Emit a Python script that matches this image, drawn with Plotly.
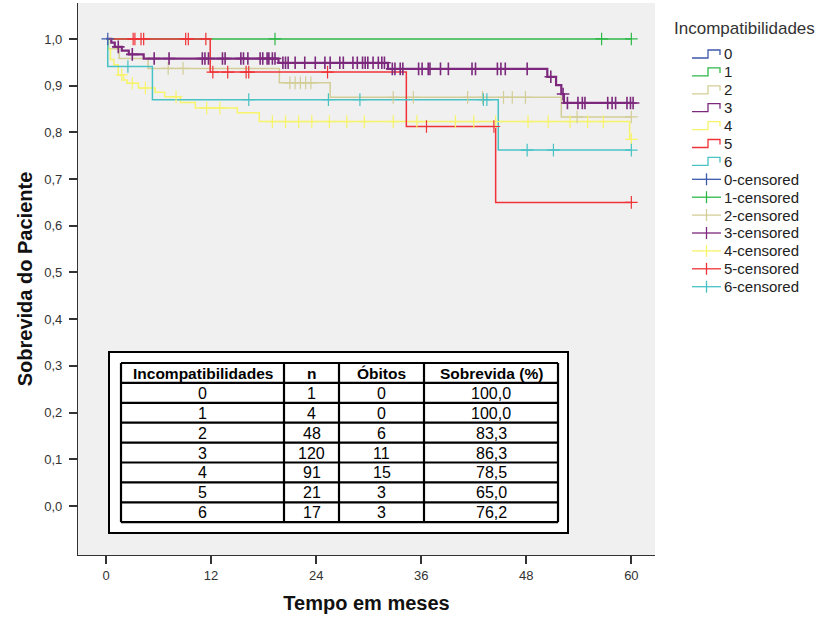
import numpy as np
import plotly.graph_objects as go

# ---------------- data ----------------
groups = ["0", "1", "2", "3", "4", "5", "6"]
colors = ["#3E58AC", "#2EB848", "#D3CE97", "#7C287D", "#F7F36A", "#EF3338", "#48C2C5"]

step_times = {
    "0": [0.0],
    "1": [0.0],
    "2": [0.0, 0.3, 1.5, 4.8, 19.8, 25.6, 52.0],
    "3": [0.0, 0.6, 1.0, 1.8, 2.6, 4.3, 19.7, 32.2, 50.4, 51.4, 52.0, 52.3],
    "4": [0.0, 0.2, 0.5, 0.9, 1.4, 2.0, 2.4, 3.7, 5.6, 6.7, 8.5, 10.2, 15.0, 17.5, 59.8],
    "5": [0.0, 11.9, 34.3, 44.5],
    "6": [0.0, 0.2, 5.3, 44.8],
}
step_surv = {
    "0": [1.0],
    "1": [1.0],
    "2": [1.0, 0.979, 0.958, 0.937, 0.906, 0.875, 0.833],
    "3": [1.0, 0.992, 0.983, 0.975, 0.967, 0.958, 0.949, 0.936, 0.919, 0.901, 0.882, 0.863],
    "4": [1.0, 0.978, 0.956, 0.945, 0.923, 0.912, 0.905, 0.895, 0.886, 0.876, 0.864, 0.852, 0.842, 0.823, 0.785],
    "5": [1.0, 0.929, 0.8125, 0.65],
    "6": [1.0, 0.941, 0.870, 0.762],
}
censor_times = {
    "0": [0.2],
    "1": [19.3, 56.6, 60.0],
    "2": [7.1, 8.8, 21.0, 21.6, 22.2, 22.8, 23.4, 32.8, 35.1, 41.3, 43.0, 45.4, 46.4, 47.9, 53.8, 60.0],
    "3": [1.4, 3.0, 5.5, 7.2, 11.0, 11.3, 11.7, 13.3, 13.6, 15.4, 15.7, 16.2, 17.6, 17.9, 18.4, 18.6,
          19.0, 19.3, 20.2, 20.5, 20.8, 21.6, 22.7, 23.9, 25.0, 25.6, 26.7, 27.1, 28.2, 28.7, 29.3,
          29.6, 29.9, 30.5, 31.1, 31.5, 31.8, 32.7, 33.0, 33.6, 33.9, 35.7, 36.1, 36.8, 37.0, 38.2,
          39.1, 41.8, 42.2, 44.7, 45.1, 45.6, 48.1, 50.8, 52.2, 52.7, 53.9, 54.4, 54.7, 57.3, 57.8,
          58.2, 59.5, 59.9, 60.2],
    "4": [1.8, 3.0, 4.5, 8.0, 11.5, 13.0, 19.0, 20.5, 22.0, 23.5, 25.5, 27.5, 29.5, 32.8, 35.5,
          39.9, 42.0, 44.5, 48.2, 50.5, 53.0, 55.0, 56.8, 60.0],
    "5": [3.1, 3.3, 4.0, 4.3, 9.1, 9.4, 11.4, 12.2, 13.9, 16.0, 16.3, 25.3, 36.6, 44.3, 60.0],
    "6": [2.5, 16.3, 25.4, 29.0, 43.1, 43.5, 48.1, 51.1, 60.0],
}

# summary table
tab_header = ["Incompatibilidades", "n", "Óbitos", "Sobrevida (%)"]
tab_group = ["0", "1", "2", "3", "4", "5", "6"]
tab_n = ["1", "4", "48", "120", "91", "21", "17"]
tab_obitos = ["0", "0", "6", "11", "15", "3", "3"]
tab_surv = ["100,0", "100,0", "83,3", "86,3", "78,5", "65,0", "76,2"]

x_ticks = [0, 12, 24, 36, 48, 60]
y_ticks = [0.0, 0.1, 0.2, 0.3, 0.4, 0.5, 0.6, 0.7, 0.8, 0.9, 1.0]
legend_title = "Incompatibilidades"

FONT = "Arial, Liberation Sans, sans-serif"

# figure geometry (pixels)
W, H = 828, 618
ML, MR, MT, MB = 78, 173, 3, 63
PW, PH = W - ML - MR, H - MT - MB


def px_x(p):
    return (p - ML) / PW


def px_y(p):
    return (H - MB - p) / PH


fig = go.Figure()


def surv_at(g, t):
    ts = np.array(step_times[g])
    ss = np.array(step_surv[g])
    idx = np.searchsorted(ts, t, side="right") - 1
    return ss[idx]


# step curves
for g, c in zip(groups, colors):
    end = max(censor_times[g] + step_times[g])
    xs = list(step_times[g]) + [end]
    ys = list(step_surv[g]) + [step_surv[g][-1]]
    fig.add_trace(go.Scatter(
        x=xs, y=ys, mode="lines", name=g, showlegend=False,
        line=dict(color=c, width=2.2 if g == "3" else 1.5, shape="hv"),
        hoverinfo="skip",
    ))

# censored markers
for g, c in zip(groups, colors):
    ct = np.array(censor_times[g])
    cy = surv_at(g, ct)
    fig.add_trace(go.Scatter(
        x=ct, y=cy, mode="markers", name=g + "-censored", showlegend=False,
        marker=dict(symbol="cross-thin", size=9, color=c,
                    line=dict(color=c, width=1.6 if g == "3" else 1.2)),
    ))

shapes = []
annotations = []

# ---- summary table drawn with shapes + text ----
col_edges = [121, 284, 339, 424, 558]
row_top, row_h = 363, 19.9
columns = [tab_group, tab_n, tab_obitos, tab_surv]
n_rows = len(tab_group) + 1

shapes.append(dict(type="rect", xref="paper", yref="paper",
                   x0=px_x(109), x1=px_x(568), y0=px_y(533), y1=px_y(352),
                   fillcolor="white", line=dict(color="black", width=2), layer="above"))
for k in range(n_rows + 1):
    yy = row_top + row_h * k
    shapes.append(dict(type="line", xref="paper", yref="paper",
                       x0=px_x(col_edges[0]), x1=px_x(col_edges[-1]), y0=px_y(yy), y1=px_y(yy),
                       line=dict(color="black", width=2.2), layer="above"))
for xe in col_edges:
    shapes.append(dict(type="line", xref="paper", yref="paper",
                       x0=px_x(xe), x1=px_x(xe), y0=px_y(row_top), y1=px_y(row_top + row_h * n_rows),
                       line=dict(color="black", width=2.2), layer="above"))
for j, h in enumerate(tab_header):
    xc = (col_edges[j] + col_edges[j + 1]) / 2
    annotations.append(dict(text="<b>%s</b>" % h, xref="paper", yref="paper",
                            x=px_x(xc), y=px_y(row_top + row_h * 0.5 + 0.5),
                            xanchor="center", yanchor="middle", showarrow=False,
                            font=dict(size=15.5, color="black")))
for j, col in enumerate(columns):
    xc = (col_edges[j] + col_edges[j + 1]) / 2
    for r, v in enumerate(col):
        annotations.append(dict(text=v, xref="paper", yref="paper",
                                x=px_x(xc), y=px_y(row_top + row_h * (r + 1.5) + 0.5),
                                xanchor="center", yanchor="middle", showarrow=False,
                                font=dict(size=16, color="black")))

# ---- manual legend (SPSS style) ----
annotations.append(dict(text=legend_title, xref="paper", yref="paper",
                        x=px_x(672), y=px_y(29), xanchor="left", yanchor="middle",
                        showarrow=False, font=dict(size=17, color="#333333")))
names = [g for g in groups] + [g + "-censored" for g in groups]
for i, name in enumerate(names):
    yc = 54 + 17.9 * i
    c = colors[i % 7]
    annotations.append(dict(text=name, xref="paper", yref="paper",
                            x=px_x(722), y=px_y(yc), xanchor="left", yanchor="middle",
                            showarrow=False, font=dict(size=15, color="#222222")))
    if i < 7:
        path = "M %f %f L %f %f L %f %f L %f %f L %f %f" % (
            px_x(692), px_y(yc + 4), px_x(708), px_y(yc + 4),
            px_x(708), px_y(yc - 4), px_x(720), px_y(yc - 4),
            px_x(720), px_y(yc + 1))
        shapes.append(dict(type="path", xref="paper", yref="paper", path=path,
                           line=dict(color=c, width=1.3)))
    else:
        shapes.append(dict(type="line", xref="paper", yref="paper",
                           x0=px_x(692), x1=px_x(721), y0=px_y(yc), y1=px_y(yc),
                           line=dict(color=c, width=1.3)))
        shapes.append(dict(type="line", xref="paper", yref="paper",
                           x0=px_x(706.5), x1=px_x(706.5), y0=px_y(yc - 6), y1=px_y(yc + 6),
                           line=dict(color=c, width=1.3)))

fig.update_layout(
    width=W, height=H,
    margin=dict(l=ML, r=MR, t=MT, b=MB),
    paper_bgcolor="white",
    plot_bgcolor="#F0F0F0",
    separators=",.",
    font=dict(family=FONT, size=13, color="#333333"),
    showlegend=False,
    shapes=shapes,
    annotations=annotations,
)

fig.update_xaxes(
    range=[-3.2, 62.7], tickvals=x_ticks, ticktext=[str(v) for v in x_ticks],
    showline=True, linecolor="#333333", linewidth=1.2,
    ticks="outside", ticklen=8, tickwidth=1.5, tickcolor="#333333",
    tickfont=dict(size=13),
    showgrid=False, zeroline=False,
    title=dict(text="<b>Tempo em meses</b>", font=dict(size=20, color="#111111"), standoff=14),
)
fig.update_yaxes(
    range=[-0.105, 1.077], tickvals=y_ticks, tickformat=".1f",
    showline=True, linecolor="#333333", linewidth=1.2,
    ticks="outside", ticklen=8, tickwidth=1.5, tickcolor="#333333",
    tickfont=dict(size=13), ticklabelstandoff=4,
    showgrid=False, zeroline=False,
    title=dict(text="<b>Sobrevida do Paciente</b>", font=dict(size=20, color="#111111"), standoff=6),
)

fig.write_html("out.html")
